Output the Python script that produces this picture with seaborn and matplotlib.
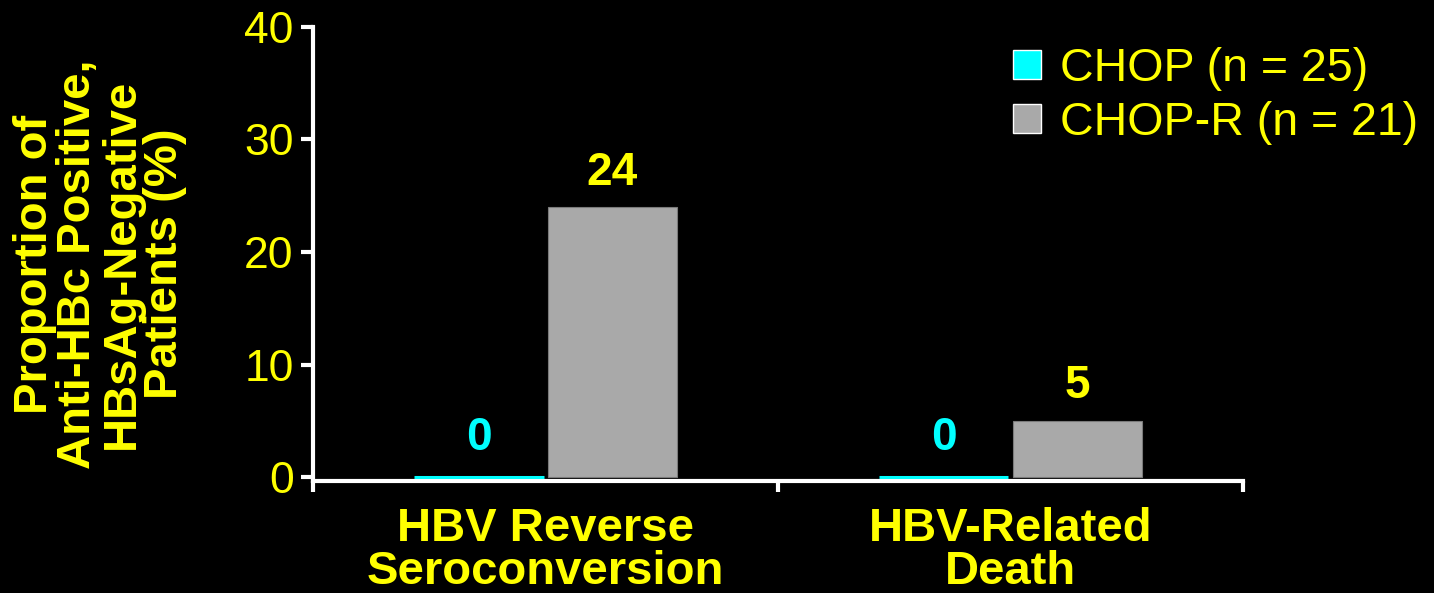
import pandas as pd
import seaborn as sns
import matplotlib.pyplot as plt

# data
categories = ["HBV Reverse\nSeroconversion", "HBV-Related\nDeath"]
groups = ["CHOP (n = 25)", "CHOP-R (n = 21)"]
chop = [0, 0]
chop_r = [24, 5]

df = pd.DataFrame({
    "outcome": categories * 2,
    "group": [groups[0]] * 2 + [groups[1]] * 2,
    "pct": chop + chop_r,
})

YELLOW = "#FFFF00"
CYAN = "#00FFFF"
GRAY = "#A9A9A9"
palette = {groups[0]: CYAN, groups[1]: GRAY}

sns.set_theme(style="ticks", rc={
    "figure.facecolor": "black",
    "axes.facecolor": "black",
    "axes.edgecolor": "white",
    "savefig.facecolor": "black",
})
plt.rcParams["font.family"] = ["Liberation Sans", "DejaVu Sans"]

fig = plt.figure(figsize=(14.34, 5.93), dpi=100)
ax = fig.add_axes([0.2183, 0.1889, 0.6485, 0.7656])

sns.barplot(data=df, x="outcome", y="pct", hue="group", order=categories,
            hue_order=groups, palette=palette, width=0.575, gap=0.03,
            saturation=1, ax=ax, legend=True)

# zero-height CHOP bars show as a thin cyan line
for p in ax.containers[0]:
    p.set_edgecolor(CYAN)
    p.set_linewidth(2.2)
    p.set_zorder(3)
for p in ax.containers[1]:
    p.set_edgecolor("#7a7a7a")
    p.set_linewidth(0.8)

ax.bar_label(ax.containers[0], labels=[str(v) for v in chop], padding=12,
             color=CYAN, fontsize=33, fontweight="bold")
ax.bar_label(ax.containers[1], labels=[str(v) for v in chop_r], padding=9,
             color=YELLOW, fontsize=33, fontweight="bold")

ax.set_xlim(-0.5, 1.5)
ax.set_ylim(-0.35, 40)
ax.set_yticks([0, 10, 20, 30, 40])
ax.tick_params(axis="y", colors="white", labelcolor=YELLOW, labelsize=32,
               length=9, width=3, direction="out", pad=5)
ax.set_xticks([0, 1])
ax.set_xticklabels(categories, fontsize=34, fontweight="bold", color=YELLOW,
                   linespacing=0.95)
ax.set_xticks([-0.5, 0.5, 1.5], minor=True)
ax.tick_params(axis="x", which="major", length=0, pad=19)
ax.tick_params(axis="x", which="minor", colors="white", length=8, width=3,
               direction="out")

for side in ["top", "right"]:
    ax.spines[side].set_visible(False)
for side in ["left", "bottom"]:
    ax.spines[side].set_linewidth(3)
    ax.spines[side].set_color("white")

ax.set_xlabel("")
ax.set_ylabel("Proportion of\nAnti-HBc Positive,\nHBsAg-Negative\nPatients (%)",
              fontsize=34, fontweight="bold", color=YELLOW, linespacing=0.98,
              rotation=90, ha="center", va="center", rotation_mode="default")
ax.yaxis.set_label_coords(-0.229, 0.478)

leg = ax.legend(loc="upper left", bbox_to_anchor=(1013 / 1434, 1 - 47 / 593),
                bbox_transform=fig.transFigure, frameon=False, fontsize=33.5,
                handlelength=0.6, handleheight=0.6, handletextpad=0.4,
                labelspacing=0.21, borderpad=0, borderaxespad=0)
for t in leg.get_texts():
    t.set_color(YELLOW)

fig.savefig("out.png", dpi=100)
